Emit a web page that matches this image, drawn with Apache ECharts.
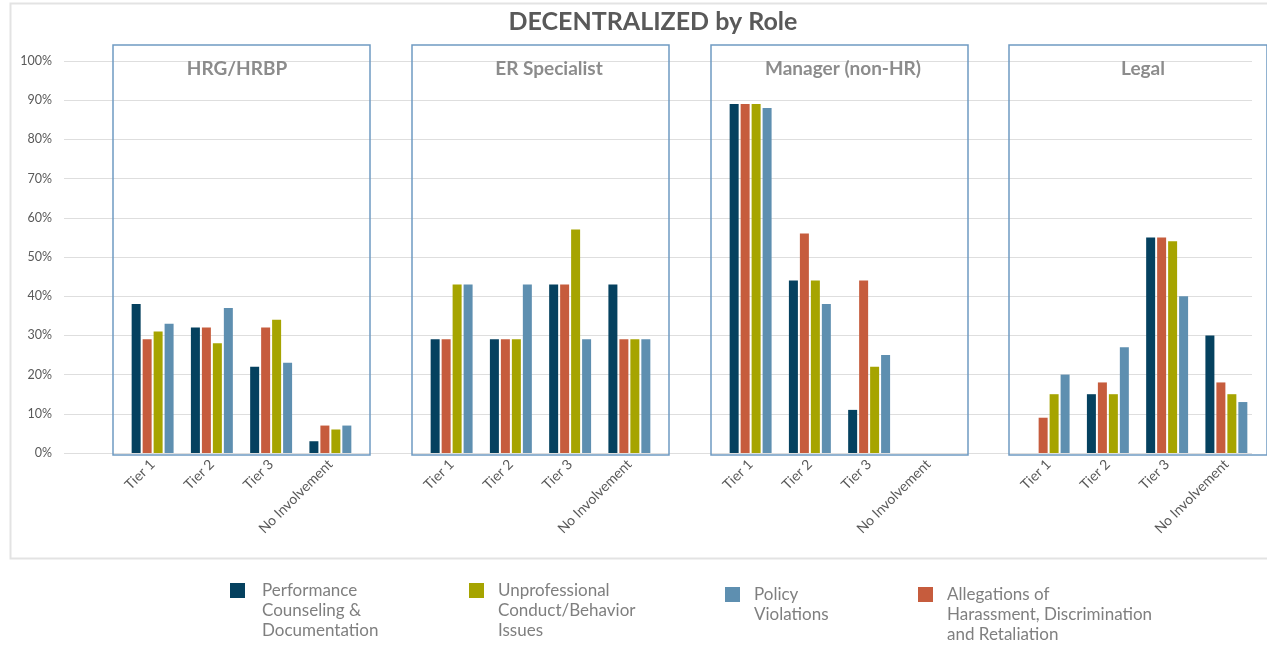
<!DOCTYPE html>
<html>
<head>
<meta charset="utf-8">
<title>DECENTRALIZED by Role</title>
<script src="https://cdn.jsdelivr.net/npm/echarts@6/dist/echarts.min.js"></script>
<style>
  html, body { margin: 0; padding: 0; background: #ffffff; }
  #chart { width: 1267px; height: 647px; }
</style>
</head>
<body>
<div id="chart"></div>
<script>
// ---- data ----
const chartTitle = 'DECENTRALIZED by Role';
const roles = ['HRG/HRBP', 'ER Specialist', 'Manager (non-HR)', 'Legal'];
const tiers = ['Tier 1', 'Tier 2', 'Tier 3', 'No Involvement'];
const yTicks = [0, 10, 20, 30, 40, 50, 60, 70, 80, 90, 100];

// series names (bar order inside each group)
const seriesNames = [
  'Performance Counseling & Documentation',
  'Allegations of Harassment, Discrimination and Retaliation',
  'Unprofessional Conduct/Behavior Issues',
  'Policy Violations'
];
const seriesColors = ['#05415f', '#c65c3d', '#a6a400', '#5e8fb0'];

// percentages per role, one array per series: [Tier 1, Tier 2, Tier 3, No Involvement]
const performance = {
  'HRG/HRBP':         [38, 32, 22, 3],
  'ER Specialist':    [29, 29, 43, 43],
  'Manager (non-HR)': [89, 44, 11, 0],
  'Legal':            [0, 15, 55, 30]
};
const allegations = {
  'HRG/HRBP':         [29, 32, 32, 7],
  'ER Specialist':    [29, 29, 43, 29],
  'Manager (non-HR)': [89, 56, 44, 0],
  'Legal':            [9, 18, 55, 18]
};
const unprofessional = {
  'HRG/HRBP':         [31, 28, 34, 6],
  'ER Specialist':    [43, 29, 57, 29],
  'Manager (non-HR)': [89, 44, 22, 0],
  'Legal':            [15, 15, 54, 15]
};
const policy = {
  'HRG/HRBP':         [33, 37, 23, 7],
  'ER Specialist':    [43, 43, 29, 29],
  'Manager (non-HR)': [88, 38, 25, 0],
  'Legal':            [20, 27, 40, 13]
};
const seriesData = [performance, allegations, unprofessional, policy];

// legend entries in display order, with wrapped labels
const legendOrder = [
  'Performance Counseling & Documentation',
  'Unprofessional Conduct/Behavior Issues',
  'Policy Violations',
  'Allegations of Harassment, Discrimination and Retaliation'
];
const legendLabels = [
  'Performance\nCounseling &\nDocumentation',
  'Unprofessional\nConduct/Behavior\nIssues',
  'Policy\nViolations',
  'Allegations of\nHarassment, Discrimination\nand Retaliation'
];

// ---- layout ----
const FONT = 'Lato, "Open Sans", sans-serif';
const plotTop = 61, plotHeight = 392;           // 0%..100% span
const boxTop = 45, boxHeight = 410;             // panel frames
const boxLefts = [113, 412, 711, 1009];
const boxWidths = [257, 257, 257, 262];
const titleCenters = [232, 544, 838, 1138];
const innerPad = 10, innerWidth = 237;
const yMax = yTicks[yTicks.length - 1];

const grids = [], xAxes = [], yAxes = [], series = [], titles = [];

titles.push({
  text: chartTitle, left: 648, top: 4, textAlign: 'center',
  textStyle: { fontFamily: FONT, fontSize: 25, fontWeight: 'bold', color: '#595959' }
});

// background grid carrying the shared percentage axis and gridlines
grids.push({ left: 64, top: plotTop, width: 1188, height: plotHeight, containLabel: false });
xAxes.push({ gridIndex: 0, type: 'value', show: false, min: 0, max: 1 });
yAxes.push({
  gridIndex: 0, type: 'value', min: yTicks[0], max: yMax, interval: yTicks[1] - yTicks[0],
  axisLine: { show: false }, axisTick: { show: false },
  axisLabel: { formatter: '{value}%', color: '#595959', fontFamily: FONT, fontSize: 12.5, margin: 12 },
  splitLine: { lineStyle: { color: '#dedede', width: 1 } }
});

roles.forEach((role, p) => {
  // panel frame
  const frameIdx = grids.length;
  grids.push({
    show: true, left: boxLefts[p], top: boxTop, width: boxWidths[p], height: boxHeight,
    borderColor: '#6f9bc2', borderWidth: 1.5, backgroundColor: 'transparent', z: 3
  });
  xAxes.push({ gridIndex: frameIdx, type: 'value', show: false });
  yAxes.push({ gridIndex: frameIdx, type: 'value', show: false });

  // panel plot area
  const gi = grids.length;
  grids.push({ left: boxLefts[p] + innerPad, top: plotTop, width: innerWidth, height: plotHeight });
  xAxes.push({
    gridIndex: gi, type: 'category', data: tiers,
    axisLine: { show: false }, axisTick: { show: false },
    axisLabel: { rotate: 45, color: '#595959', fontFamily: FONT, fontSize: 14, margin: 9, interval: 0 }
  });
  yAxes.push({ gridIndex: gi, type: 'value', min: 0, max: yMax, show: false, splitLine: { show: false } });

  seriesNames.forEach((name, s) => {
    series.push({
      name: name, type: 'bar', xAxisIndex: gi, yAxisIndex: gi,
      data: seriesData[s][role],
      barWidth: 9, barGap: '22%',
      itemStyle: { color: seriesColors[s] },
      z: 2
    });
  });

  titles.push({
    text: role, left: titleCenters[p], top: 54, textAlign: 'center',
    textStyle: { fontFamily: FONT, fontSize: 19, fontWeight: 'bold', color: '#8c8c8c' }
  });
});

// legends: one block per entry; leading blank lines keep the swatch level with the first text line
const legendX = [230, 469, 725, 918];
const legendIconTop = [583, 583, 587, 587];
const legendTextGap = [12, 9, 9, 9];
const LH = 20;
const legends = legendOrder.map((name, i) => {
  const lines = legendLabels[i].split('\n').length;
  const text = '\n'.repeat(lines - 1) + legendLabels[i];
  const shift = ((2 * lines - 1) * LH) / 2 - 7.5;
  return {
    data: [name],
    left: legendX[i], top: legendIconTop[i] - shift,
    padding: 0, itemWidth: 15, itemHeight: 15, icon: 'rect',
    selectedMode: false,
    formatter: () => text,
    textStyle: { fontFamily: FONT, fontSize: 17, lineHeight: LH, color: '#7f7f7f', padding: [0, 0, 0, legendTextGap[i]] }
  };
});

const chart = echarts.init(document.getElementById('chart'), null, { renderer: 'canvas' });
chart.setOption({
  backgroundColor: '#ffffff',
  animation: false,
  color: seriesColors,
  title: titles,
  grid: grids,
  xAxis: xAxes,
  yAxis: yAxes,
  legend: legends,
  series: series,
  graphic: [{
    type: 'rect', left: 8, top: 1, silent: true, z: -10,
    shape: { width: 1275, height: 555 },
    style: { fill: 'none', stroke: '#e3e3e3', lineWidth: 2 }
  }]
});
</script>
</body>
</html>
